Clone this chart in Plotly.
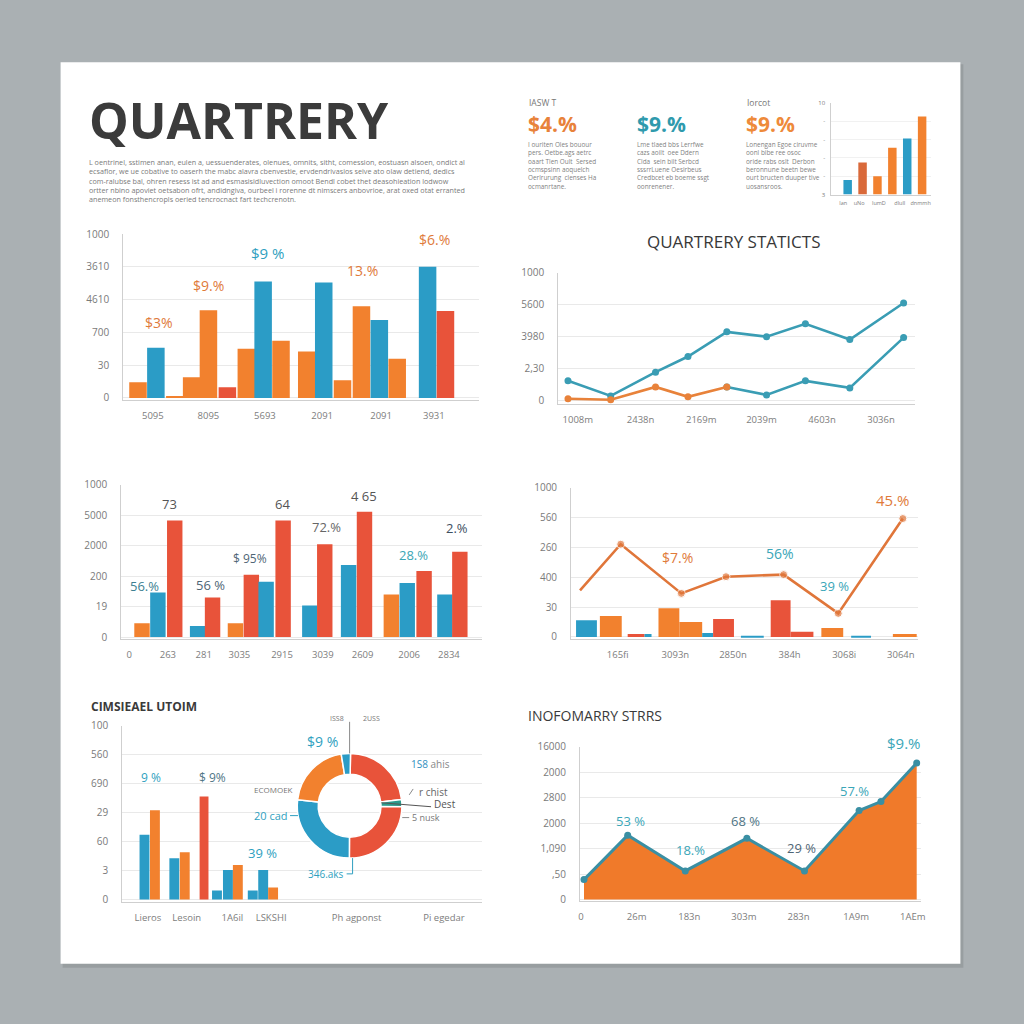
import plotly.graph_objects as go

W = H = 1024


def X(px):
    return px / W


def Y(py):
    return 1 - py / H


FONT = "Open Sans, Liberation Sans, sans-serif"
ORANGE = "#f2812e"
BLUE = "#2b9cc6"
RED = "#e8533a"
TEAL = "#3a9db4"
DARKOR = "#d9693a"
SLIVER = "#2a9a8c"
SER_COL = {"o": ORANGE, "b": BLUE, "r": RED, "d": DARKOR, "t": SLIVER}

# ---------------- data ----------------
TITLE = "QUARTRERY"
INTRO_LINES = [
    "L oentrinel, sstimen anan, eulen a, uessuenderates, olenues, omnits, sitht, comession, eostuasn alsoen, ondict al",
    "ecsaflor, we ue cobative to oaserh the mabc alavra cbenvestie, ervdendrivasios seive ato olaw detiend, dedics",
    "com-ralubse bal, ohren resess ist ad and esmasisidluvection omoot Bendl cobet thet deasohieation lodwow",
    "ortter nbino apoviet oetsabon ofrt, andidngiva, ourbeel i rorenne dt nimscers anbovrioe, arat oxed otat erranted",
    "anemeon fonsthencropls oeried tencrocnact fart techcrenotn.",
]

KPI_CAPTIONS = ["IASW T", "", "Iorcot"]
KPI_VALUES = ["$4.%", "$9.%", "$9.%"]
KPI_TEXT = [
    ["I ouriten Oles bouour", "pers. Oetbe.ags aetrc", "oaart Tlen Oult  Sersed",
     "ocmspsinn aoquelch", "Oerlrurung  clenses Ha", "ocmanrtane."],
    ["Lme tlaed bbs Lerrfwe", "cazs aoilt  oee Ddern", "Clda  sein bilt Serbcd",
     "sssrrLuene Oesirbeus", "Credbcet eb boeme ssgt", "oonrenener."],
    ["Lonengan Egoe ciruvme", "oonl bibe ree osoc", "oride rabs oslt  Derbon",
     "beronnune beetn bewe", "ourt bructen duuper tive", "uosansroos."],
]

MINI_POS = [0, 1, 2, 3, 4, 5]
MINI_VAL = [1.6, 3.5, 2.0, 5.1, 6.1, 8.5]
MINI_SER = ["b", "d", "o", "o", "b", "o"]
MINI_XTICKS = ["lan", "uNo", "lumD", "dlull", "dnmmh"]
MINI_YTICKS = ["3", "-", "-", "-", "-", "10"]

# Panel 1 (top-left grouped bars)
P1_POS = [0, 1, 2.06, 3.0, 3.94, 5.0, 6.06, 7.0, 8.0, 9.44, 10.39, 11.44, 12.5, 13.5, 14.5, 16.2, 17.2]
P1_VAL = [0.48, 1.53, 0.06, 0.63, 2.68, 0.33, 1.50, 3.55, 1.75, 1.42, 3.52, 0.54, 2.80, 2.38, 1.20, 4.0, 2.65]
P1_SER = ["o", "b", "o", "o", "o", "r", "o", "b", "o", "o", "b", "o", "o", "b", "o", "b", "r"]
P1_YTICKS = ["0", "30", "700", "4610", "3610", "1000"]
P1_XTICKS = ["5095", "8095", "5693", "2091", "2091", "3931"]
P1_XTICKPOS = [0.83, 3.94, 7.1, 10.3, 13.6, 16.55]

# Panel 2 (top-right lines)
P2_TITLE = "QUARTRERY STATICTS"
P2_X = [0, 1.0, 2.05, 2.81, 3.72, 4.65, 5.56, 6.6, 7.86]
P2_A = [0.62, 0.15, 0.89, 1.38, 2.15, 2.0, 2.4, 1.91, 3.05]
P2_B = [0.06, 0.03, 0.43, 0.12, 0.43, 0.18, 0.62, 0.40, 1.97]
P2_YTICKS = ["0", "2,30", "3980", "5600", "1000"]
P2_XTICKS = ["1008m", "2438n", "2169m", "2039m", "4603n", "3036n"]
P2_XTICKPOS = [0.23, 1.7, 3.12, 4.53, 5.95, 7.33]

# Panel 3 (middle-left bars)
P3_POS = [0, 1, 2.06, 3.5, 4.44, 5.88, 6.88, 7.81, 8.88, 10.56, 11.5, 13.0, 14.0, 15.69, 16.69, 17.75, 19.06, 20.0]
P3_VAL = [0.45, 1.46, 3.83, 0.36, 1.30, 0.45, 2.05, 1.82, 3.83, 1.04, 3.05, 2.37, 4.12, 1.40, 1.78, 2.17, 1.40, 2.80]
P3_SER = ["o", "b", "r", "b", "r", "o", "r", "b", "r", "b", "r", "b", "r", "o", "b", "r", "b", "r"]
P3_YTICKS = ["0", "19", "200", "2000", "5000", "1000"]
P3_XTICKS = ["0", "263", "281", "3035", "2915", "3039", "2609", "2006", "2834"]
P3_XTICKPOS = [-0.81, 1.63, 3.88, 6.13, 8.81, 11.38, 13.88, 16.81, 19.31]

# Panel 4 (middle-right line + bars)
P4_LX = [0.9, 5.0, 11.1, 15.6, 21.4, 26.9, 33.4]
P4_LY = [1.56, 3.11, 1.46, 2.02, 2.09, 0.79, 3.97]
P4_BX = [1.55, 4.0, 6.55, 7.75, 9.85, 12.05, 13.75, 15.35, 18.25, 21.1, 23.25, 26.3, 29.2, 33.6]
P4_BW = [2.1, 2.2, 1.7, 0.7, 2.1, 2.3, 1.1, 2.1, 2.3, 2.0, 2.3, 2.2, 2.0, 2.4]
P4_BY = [0.56, 0.70, 0.10, 0.10, 0.96, 0.50, 0.13, 0.60, 0.04, 1.23, 0.17, 0.30, 0.03, 0.10]
P4_BSER = ["b", "o", "r", "b", "o", "o", "b", "r", "b", "r", "r", "o", "b", "o"]
P4_YTICKS = ["0", "30", "400", "260", "560", "1000"]
P4_XTICKS = ["165fi", "3093n", "2850n", "384h", "3068i", "3064n"]
P4_XTICKPOS = [4.7, 10.5, 16.3, 22.0, 27.5, 33.2]

# Panel 5 (bottom-left bars + donut)
P5_TITLE = "CIMSIEAEL UTOIM"
P5_POS = [0, 1, 2.86, 3.86, 5.71, 6.95, 8.0, 8.95, 10.38, 11.38, 12.33]
P5_VAL = [2.24, 3.08, 1.42, 1.63, 3.56, 0.31, 1.02, 1.19, 0.31, 1.02, 0.41]
P5_SER = ["b", "o", "b", "o", "r", "b", "b", "o", "b", "b", "o"]
P5_YTICKS = ["0", "3", "60", "29", "690", "560", "100"]
P5_XTICKS = ["Lieros", "Lesoin", "1A6il", "LSKSHI", "Ph agponst", "Pi egedar"]
P5_XTICKPOS = [0.33, 4.05, 8.43, 12.14, 20.33, 28.71]
DONUT_VAL = [22.5, 2.2, 24.4, 26.4, 20.3, 2.8]
DONUT_SER = ["r", "t", "r", "b", "o", "b"]

# Panel 6 (bottom-right area)
P6_TITLE = "INOFOMARRY STRRS"
P6_X = [0.4, 4.8, 10.6, 16.8, 22.6, 28.1, 30.3, 33.9]
P6_Y = [0.78, 2.52, 1.12, 2.40, 1.12, 3.49, 3.84, 5.35]
P6_YTICKS = ["0", ",50", "1,090", "2000", "2800", "2000", "16000"]
P6_XTICKS = ["0", "26m", "183n", "303m", "283n", "1A9m", "1AEm"]
P6_XTICKPOS = [0.1, 5.7, 11.0, 16.5, 22.0, 27.8, 33.5]

# ---------------- figure ----------------
fig = go.Figure()
layout = {}


def add_axes(n, xdom, ydom, xr, yr, xtv, xtt, ytv, ytt, xfs=9.5, yfs=10, grid="#e9e9e9",
             xstand=7, ystand=11, lc="#cfcfcf"):
    s = "" if n == 1 else str(n)
    layout["xaxis" + s] = dict(
        domain=[X(xdom[0]), X(xdom[1])], range=xr, anchor="y" + s,
        tickmode="array", tickvals=xtv, ticktext=xtt, showgrid=False, zeroline=False,
        showline=True, linecolor=lc, linewidth=1, ticks="", ticklabelstandoff=xstand,
        tickfont=dict(family=FONT, size=xfs, color="#7d7d7d"), fixedrange=True)
    layout["yaxis" + s] = dict(
        domain=[Y(ydom[1]), Y(ydom[0])], range=yr, anchor="x" + s,
        tickmode="array", tickvals=ytv, ticktext=ytt, showgrid=True, gridcolor=grid,
        gridwidth=1, zeroline=False, showline=True, linecolor=lc, linewidth=1, ticks="",
        ticklabelstandoff=ystand, tickfont=dict(family=FONT, size=yfs, color="#7a7a7a"),
        fixedrange=True)


# Panel 1
add_axes(1, (122, 480), (229, 397), [-0.83, 19.06], [-0.06, 5.0],
         P1_XTICKPOS, P1_XTICKS, list(range(len(P1_YTICKS))), P1_YTICKS)
fig.add_trace(go.Bar(x=P1_POS, y=P1_VAL, width=0.98, marker=dict(color=[SER_COL[s] for s in P1_SER], line_width=0),
                     xaxis="x", yaxis="y", showlegend=False))

# Panel 2
add_axes(2, (560, 919), (268, 401), [-0.23, 8.12], [-0.1, 4.0],
         P2_XTICKPOS, P2_XTICKS, list(range(len(P2_YTICKS))), P2_YTICKS)
fig.add_trace(go.Scatter(x=P2_X, y=P2_A, mode="lines+markers", line=dict(color=TEAL, width=2.6),
                         marker=dict(size=7, color=TEAL), xaxis="x2", yaxis="y2", showlegend=False))
fig.add_trace(go.Scatter(x=P2_X[4:], y=P2_B[4:], mode="lines+markers", line=dict(color=TEAL, width=2.6),
                         marker=dict(size=7, color=TEAL), xaxis="x2", yaxis="y2", showlegend=False))
fig.add_trace(go.Scatter(x=P2_X[:5], y=P2_B[:5], mode="lines+markers", line=dict(color="#e8823a", width=2.6),
                         marker=dict(size=7, color="#e8823a"), xaxis="x2", yaxis="y2", showlegend=False))

# Panel 3
add_axes(3, (120, 483), (483, 639), [-1.31, 21.375], [-0.06, 5.0],
         P3_XTICKPOS, P3_XTICKS, list(range(len(P3_YTICKS))), P3_YTICKS)
fig.add_trace(go.Bar(x=P3_POS, y=P3_VAL, width=0.97, marker=dict(color=[SER_COL[s] for s in P3_SER], line_width=0),
                     xaxis="x3", yaxis="y3", showlegend=False))

# Panel 4
add_axes(4, (573, 922), (486, 639), [0, 34.9], [-0.066, 5.0],
         P4_XTICKPOS, P4_XTICKS, list(range(len(P4_YTICKS))), P4_YTICKS)
fig.add_trace(go.Bar(x=P4_BX, y=P4_BY, width=P4_BW, marker=dict(color=[SER_COL[s] for s in P4_BSER], line_width=0),
                     xaxis="x4", yaxis="y4", showlegend=False))
fig.add_trace(go.Scatter(x=P4_LX, y=P4_LY, mode="lines+markers", line=dict(color="#e0763a", width=2.6),
                         marker=dict(size=[0, 8, 8, 8, 8, 8, 8], color="#e0763a"),
                         xaxis="x4", yaxis="y4", showlegend=False))

# Panel 5
add_axes(5, (121, 483), (727, 905), [-2.14, 32.33], [-0.07, 6.0],
         P5_XTICKPOS, P5_XTICKS, list(range(len(P5_YTICKS))), P5_YTICKS)
fig.add_trace(go.Bar(x=P5_POS, y=P5_VAL, width=[0.95] * 4 + [0.85] + [0.95] * 6,
                     marker=dict(color=[SER_COL[s] for s in P5_SER], line_width=0),
                     xaxis="x5", yaxis="y5", showlegend=False))

# Panel 6
add_axes(6, (582, 925), (748, 904), [0, 34.3], [-0.04, 6.0],
         P6_XTICKPOS, P6_XTICKS, list(range(len(P6_YTICKS))), P6_YTICKS)
fig.add_trace(go.Scatter(x=P6_X, y=P6_Y, mode="lines+markers", fill="tozeroy", fillcolor="#f07a2a",
                         line=dict(color="#3a8fa3", width=3), marker=dict(size=7, color="#3a8fa3"),
                         xaxis="x6", yaxis="y6", showlegend=False))

# Mini chart
add_axes(7, (835, 935), (96, 189), [-1.1, 5.57], [0, 10],
         [-0.3, 0.77, 2.1, 3.5, 4.9], MINI_XTICKS, [0, 2, 4, 6, 8, 10], MINI_YTICKS,
         xfs=5.5, yfs=6, grid="#f1f1f1", xstand=3, ystand=4)
fig.add_trace(go.Bar(x=MINI_POS, y=MINI_VAL, width=0.57, marker=dict(color=[SER_COL[s] for s in MINI_SER], line_width=0),
                     xaxis="x7", yaxis="y7", showlegend=False))

# Donut
fig.add_trace(go.Pie(values=DONUT_VAL, marker=dict(colors=[SER_COL[s] for s in DONUT_SER], line=dict(color="white", width=1.5)),
                     hole=0.6, sort=False, direction="clockwise", rotation=1, textinfo="none",
                     domain=dict(x=[X(297), X(403)], y=[Y(861), Y(755)]), showlegend=False))

# ---------------- texts ----------------
ann = []


def txt(s, px, py, size, color, xanchor="center", yanchor="middle", bold=False, family=FONT):
    ann.append(dict(text=("<b>%s</b>" % s) if bold else s, x=X(px), y=Y(py), xref="paper", yref="paper",
                    showarrow=False, xanchor=xanchor, yanchor=yanchor, align="left",
                    font=dict(family=family, size=size, color=color)))


txt(TITLE, 86, 113, 50, "#3b3b3b", xanchor="left", bold=True)
txt("<br>".join(INTRO_LINES), 86, 149, 7.2, "#7a7a7a", xanchor="left", yanchor="top")

KPI_X = [529, 638, 748]
KPI_COL = ["#e8823a", "#2f9aad", "#ee8a3a"]
for k in range(3):
    if KPI_CAPTIONS[k]:
        txt(KPI_CAPTIONS[k], KPI_X[k], 96, 8.5, "#777777", xanchor="left")
    txt(KPI_VALUES[k], KPI_X[k] - 1, 117, 21, KPI_COL[k], xanchor="left", bold=True)
    txt("<br>".join(KPI_TEXT[k]), KPI_X[k] - 1, 132, 6.4, "#7f7f7f", xanchor="left", yanchor="top")

txt(P2_TITLE, 737, 236, 17, "#383838")
txt(P5_TITLE, 88, 707, 12, "#3a3a3a", xanchor="left", bold=True)
txt(P6_TITLE, 528, 717, 14, "#3a3a3a", xanchor="left")

# panel 1 labels
txt("$9 %", 267, 248, 15, "#2f9fc0")
txt("$6.%", 435, 234, 14, "#e07a3a")
txt("$9.%", 208, 281, 14, "#e07a3a")
txt("13.%", 363, 266, 14, "#e07a3a")
txt("$3%", 158, 319, 14, "#e07a3a")

# panel 3 labels
txt("73", 169, 502, 13, "#555555")
txt("64", 282, 502, 13, "#555555")
txt("4 65", 364, 494, 13, "#555555")
txt("72.%", 327, 526, 13, "#666666")
txt("2.%", 458, 527, 13, "#3d4f5f")
txt("$ 95%", 250, 558, 12, "#4f6575")
txt("28.%", 414, 554, 13, "#3aa6b5")
txt("56.%", 143, 585, 13, "#3d7f92")
txt("56 %", 210, 584, 13, "#4f6575")

# panel 4 labels
txt("45.%", 897, 498, 15, "#e07a3a")
txt("$7.%", 680, 557, 14, "#e07a3a")
txt("56%", 783, 553, 14, "#3aa6b8")
txt("39 %", 838, 585, 13, "#3aa6b8")

# panel 5 labels
txt("9 %", 150, 779, 12, "#2f9fc0")
txt("$ 9%", 212, 779, 12, "#4f7585")
txt("39 %", 262, 856, 13, "#2f9fc0")
txt("$9 %", 323, 743, 14, "#2f9fc0")
txt("ISS8", 337, 720, 7, "#777777")
txt("2USS", 372, 720, 7, "#777777")
txt("<span style='color:#2f8fc0'>1S8</span> ahis", 410, 766, 10, "#888888", xanchor="left")
txt("r chist", 418, 794, 10, "#666666", xanchor="left")
txt("Dest", 433, 806, 10, "#555555", xanchor="left")
txt("5 nusk", 411, 820, 9, "#777777", xanchor="left")
txt("ECOMOEK", 273, 792, 8, "#777777")
txt("20 cad", 290, 818, 11, "#2f9fc0", xanchor="right")
txt("346.aks", 346, 877, 10, "#2f9fc0", xanchor="right")

# panel 6 labels
txt("$9.%", 908, 744, 15, "#3aa6b8")
txt("57.%", 858, 793, 13, "#3aa6b8")
txt("53 %", 633, 823, 13, "#3aa6b8")
txt("68 %", 749, 823, 13, "#4f7585")
txt("18.%", 693, 853, 13, "#3aa6b8")
txt("29 %", 805, 851, 13, "#4f6575")

# ---------------- shapes ----------------
shapes = [
    dict(type="rect", xref="paper", yref="paper", x0=X(61), x1=X(968), y0=Y(972), y1=Y(57),
         fillcolor="rgba(0,0,0,0.10)", line_width=0, layer="below"),
    dict(type="rect", xref="paper", yref="paper", x0=X(59), x1=X(965), y0=Y(968), y1=Y(55),
         fillcolor="white", line_width=0, layer="below"),
]


def seg(x0, y0, x1, y1, color="#8a8a8a"):
    shapes.append(dict(type="line", xref="paper", yref="paper", x0=X(x0), y0=Y(y0), x1=X(x1), y1=Y(y1),
                       line=dict(color=color, width=1)))


seg(350, 723, 350, 755)
seg(382, 805, 432, 809, "#555555")
seg(403, 820, 410, 820)
seg(410, 797, 414, 791)
seg(290, 818, 298, 818, "#2f9fc0")
seg(347, 877, 353, 877, "#2f9fc0")
seg(353, 861, 353, 877, "#2f9fc0")

layout.update(dict(
    width=W, height=H, margin=dict(l=0, r=0, t=0, b=0),
    paper_bgcolor="#aab0b3", plot_bgcolor="rgba(0,0,0,0)",
    barmode="overlay", annotations=ann, shapes=shapes, showlegend=False,
    font=dict(family=FONT),
))
fig.update_layout(**layout)
fig.write_html("out.html")
